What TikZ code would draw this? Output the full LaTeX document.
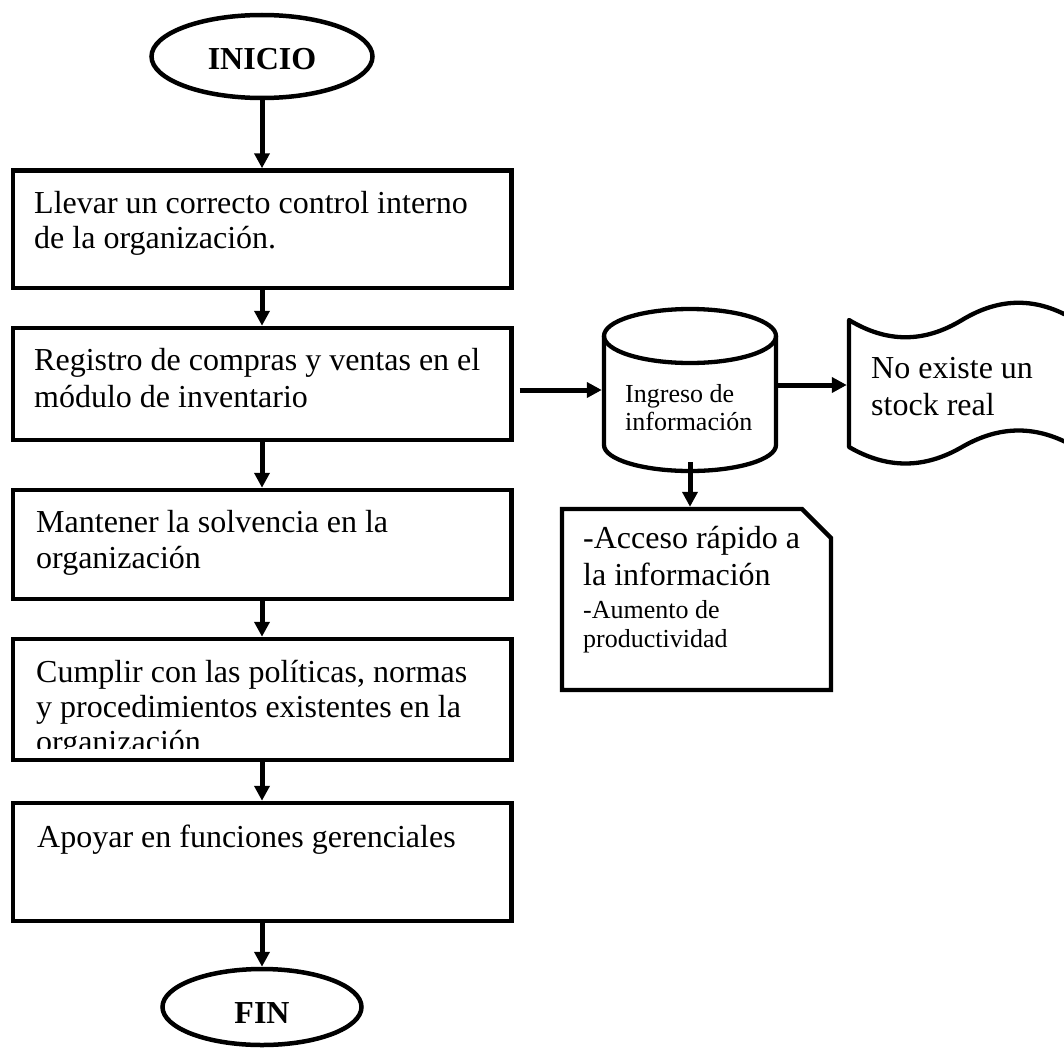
\documentclass[tikz,border=0pt]{standalone}
\usepackage{fontspec}
\setmainfont{Liberation Serif}
\usetikzlibrary{arrows.meta,shapes.geometric,calc}
\begin{document}
\begin{tikzpicture}[x=1pt,y=-1pt,
  every node/.style={inner sep=0pt},
  stepbox/.style={draw, line width=4.5pt, minimum width=498.5pt},
  term/.style={draw, ellipse, line width=4.5pt, font=\bfseries\fontsize{32}{36}\selectfont},
  txt/.style={anchor=base west, font=\fontsize{32}{36}\selectfont},
  smalltxt/.style={anchor=base west, font=\fontsize{26}{29}\selectfont},
  arr/.style={line width=5pt, -{Triangle[length=15pt,width=15pt]}},
  outline/.style={line width=4.3pt, line join=round}]

% page
\fill[white] (0,0) rectangle (1064,1049);
\useasboundingbox (0,0) rectangle (1064,1049);

% ---- main column ----
\node[term, minimum width=221pt, minimum height=83pt, text height=27pt] (ini) at (262,56.5) {INICIO};

\node[stepbox, minimum height=117.5pt] (b1) at (262,229.25) {};
\node[txt] (t1) at (34,213) {\parbox[t]{470pt}{\fontsize{32}{35}\selectfont Llevar un correcto control interno\\de la organización.}};

\node[stepbox, minimum height=112pt] (b2) at (262,384) {};
\node[txt] (t2) at (34,370) {\parbox[t]{470pt}{\fontsize{32}{37}\selectfont Registro de compras y ventas en el\\módulo de inventario}};

\node[stepbox, minimum height=109pt] (b3) at (262,544.5) {};
\node[txt] (t3) at (36,532) {\parbox[t]{470pt}{Mantener la solvencia en la\\organización}};

\node[stepbox, minimum height=121pt] (b4) at (262,699.5) {};
\begin{scope}
  \clip (15,642) rectangle (509,748);
  \node[txt] (t4) at (36,682) {\parbox[t]{470pt}{\fontsize{32}{35}\selectfont Cumplir con las políticas, normas\\y procedimientos existentes en la\\organización}};
\end{scope}

\node[stepbox, minimum height=118pt] (b5) at (262,862) {};
\node[txt] (t5) at (37,847) {Apoyar en funciones gerenciales};

\node[term, minimum width=199pt, minimum height=76pt, text height=32pt] (fin) at (262,1007) {FIN};

% ---- side shapes ----
% database cylinder
\node[minimum width=176pt, minimum height=164pt] (db) at (690,390) {};
\draw[outline] (690,336) ellipse [x radius=86pt, y radius=27pt];
\draw[outline] (604,336) -- (604,445) arc[start angle=180, end angle=360, x radius=86pt, y radius=26pt] -- (776,336);
\node[smalltxt] (tdb) at (625,402) {\parbox[t]{160pt}{\fontsize{26}{28}\selectfont Ingreso de\\información}};

% punched tape
\node[minimum width=230pt, minimum height=130pt] (ns) at (962,384) {};
\draw[outline] (849,320) .. controls (887,343) and (924,343) .. (962,320)
  .. controls (1000,297) and (1037,297) .. (1075,320) -- (1075,447)
  .. controls (1037,425) and (1000,425) .. (962,447)
  .. controls (924,469) and (887,469) .. (849,447) -- cycle;
\node[txt] (tns) at (871,378) {\parbox[t]{200pt}{\fontsize{32}{37}\selectfont No existe un\\stock real}};

% document with cut corner
\node[minimum width=273pt, minimum height=185pt] (ac) at (696.5,599.5) {};
\draw[line width=4.3pt, line join=miter] (562,509) -- (802,509) -- (831,538) -- (831,690) -- (562,690) -- cycle;
\node[txt] (tac1) at (583,548) {\parbox[t]{250pt}{\fontsize{32}{37}\selectfont -Acceso rápido a\\la información}};
\node[smalltxt] (tac2) at (583,618) {\parbox[t]{250pt}{-Aumento de\\productividad}};

% ---- connectors ----
\draw[arr] (ini.south) -- (b1.north);
\draw[arr] (b1.south) -- (b2.north);
\draw[arr] (b2.south) -- (b3.north);
\draw[arr] (b3.south) -- (b4.north);
\draw[arr] (b4.south) -- (b5.north);
\draw[arr] (b5.south) -- (fin.north);
\draw[arr] ($(b2.east |- db.west)+(6,0)$) -- (db.west);
\draw[arr] ($(db.east |- ns.west)+(0,1)$) -- ($(ns.west)+(0,1)$);
\draw[arr] ($(db.south)+(0,-10)$) -- (db.south |- ac.north);
\end{tikzpicture}
\end{document}
